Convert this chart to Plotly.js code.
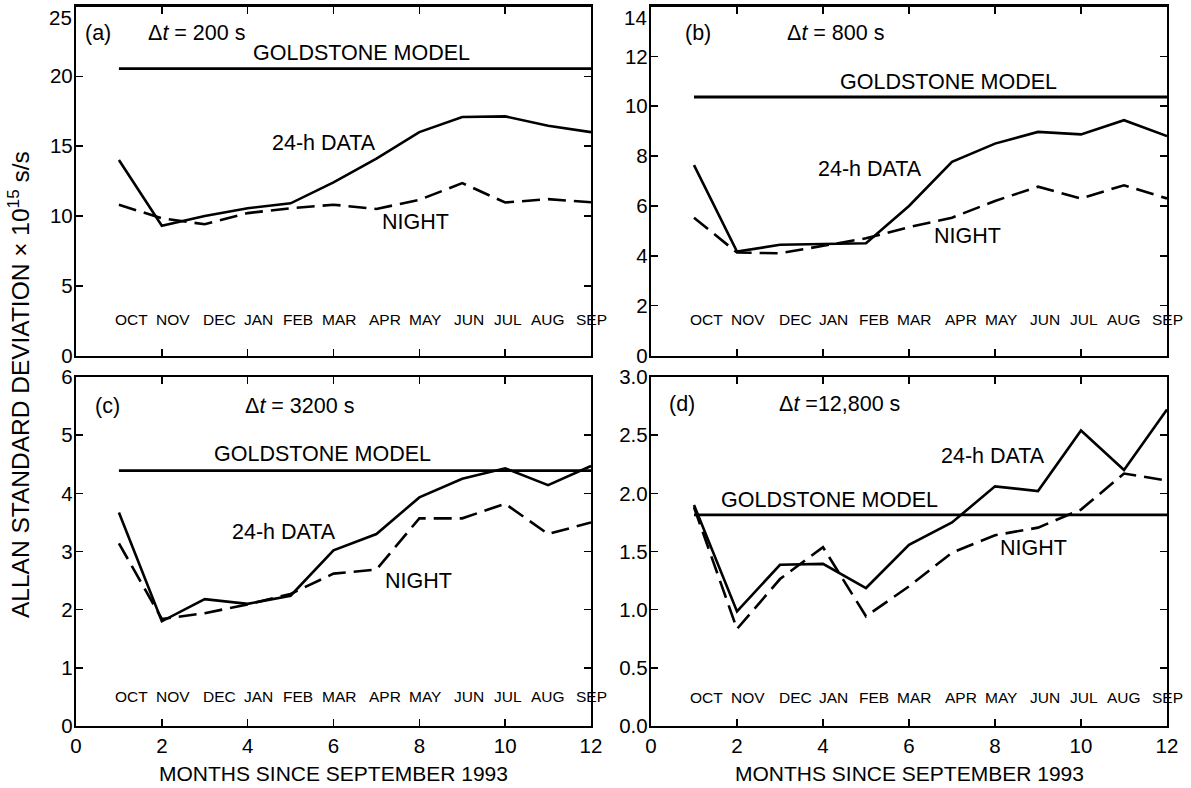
<!DOCTYPE html>
<html>
<head>
<meta charset="utf-8">
<script src="https://cdn.plot.ly/plotly-3.0.1.min.js"></script>
<style>html,body{margin:0;padding:0;background:#fff;}#chart{width:1191px;height:788px;}</style>
</head>
<body>
<div id="chart"></div>
<script>
// ---- data ----
const months = [1, 2, 3, 4, 5, 6, 7, 8, 9, 10, 11, 12];
const monthNames = ["OCT", "NOV", "DEC", "JAN", "FEB", "MAR", "APR", "MAY", "JUN", "JUL", "AUG", "SEP"];
const monthLabelPos = [1.3, 2.26, 3.35, 4.25, 5.18, 6.12, 7.2, 8.14, 9.16, 10.06, 11.0, 12.0];

const day_a   = [14.0, 9.3, 10.0, 10.55, 10.9, 12.4, 14.1, 16.0, 17.08, 17.13, 16.46, 16.0];
const night_a = [10.8, 9.83, 9.4, 10.2, 10.55, 10.8, 10.5, 11.15, 12.35, 10.96, 11.2, 10.98];
const model_a = 20.55;

const day_b   = [7.64, 4.17, 4.44, 4.47, 4.5, 6.0, 7.77, 8.5, 8.97, 8.87, 9.44, 8.8];
const night_b = [5.53, 4.13, 4.1, 4.4, 4.7, 5.15, 5.53, 6.2, 6.77, 6.3, 6.83, 6.3];
const model_b = 10.37;

const day_c   = [3.67, 1.8, 2.18, 2.1, 2.24, 3.02, 3.3, 3.93, 4.25, 4.43, 4.14, 4.47];
const night_c = [3.14, 1.84, 1.94, 2.09, 2.27, 2.62, 2.69, 3.57, 3.57, 3.82, 3.3, 3.5];
const model_c = 4.39;

const day_d   = [1.9, 0.985, 1.386, 1.394, 1.186, 1.557, 1.75, 2.06, 2.02, 2.54, 2.2, 2.72];
const night_d = [1.88, 0.834, 1.263, 1.537, 0.943, 1.2, 1.49, 1.64, 1.705, 1.86, 2.17, 2.11];
const model_d = 1.815;

const panels = [
  {id: "", day: day_a, night: night_a, model: model_a, range: [0, 25], dtick: 5, fmt: "", topInside: true,
   tag: "(a)", dt: "\u0394<i>t</i> = 200 s",
   lab: {tag: [0.52, 23.1], dt: [2.8, 23.1], model: [6.66, 21.7], day: [5.78, 15.24], night: [7.92, 9.57]}, monthY: 0.102},
  {id: "2", day: day_b, night: night_b, model: model_b, range: [0, 14], dtick: 2, fmt: "", topInside: true,
   tag: "(b)", dt: "\u0394<i>t</i> = 800 s",
   lab: {tag: [1.09, 12.95], dt: [4.28, 12.95], model: [6.93, 10.99], day: [5.09, 7.47], night: [7.35, 4.79]}, monthY: 0.104},
  {id: "3", day: day_c, night: night_c, model: model_c, range: [0, 6], dtick: 1, fmt: "", topInside: false,
   tag: "(c)", dt: "\u0394<i>t</i> = 3200 s",
   lab: {tag: [0.73, 5.5], dt: [5.2, 5.5], model: [5.75, 4.68], day: [4.85, 3.33], night: [7.98, 2.5]}, monthY: 0.084},
  {id: "4", day: day_d, night: night_d, model: model_d, range: [0, 3], dtick: 0.5, fmt: ".1f", topInside: false,
   tag: "(d)", dt: "\u0394<i>t</i> =12,800 s",
   lab: {tag: [0.73, 2.77], dt: [4.39, 2.77], model: [4.14, 1.94], day: [7.95, 2.32], night: [8.9, 1.53]}, monthY: 0.081}
];

// ---- layout geometry ----
const W = 1191, H = 788;
const xDom = [[76 / W, 591 / W], [651 / W, 1167 / W]];
const yDom = [[1 - 355.5 / H, 1 - 6.5 / H], [1 - 726 / H, 1 - 377 / H]];
const FONT = "Liberation Sans, Arial, Helvetica, sans-serif";
const LABEL = 21.5;
const TICK = 20.5;

const traces = [];
const annotations = [];
const layout = {
  width: W, height: H,
  margin: {l: 0, r: 0, t: 0, b: 0},
  paper_bgcolor: "#fff", plot_bgcolor: "#fff",
  showlegend: false,
  font: {family: FONT, color: "#000", size: 20},
  annotations: annotations
};

panels.forEach((p, i) => {
  const xa = "x" + p.id, ya = "y" + p.id;
  const col = i % 2, row = Math.floor(i / 2);
  const bottom = row === 1;
  // tick values follow the axis range and step
  const vals = [];
  for (let v = p.range[0]; v <= p.range[1] + 1e-9; v += p.dtick) vals.push(+v.toFixed(3));
  const topVal = vals[vals.length - 1];
  const axisVals = p.topInside ? vals.slice(0, -1) : vals;
  const fmtVal = v => p.fmt ? v.toFixed(1) : String(v);

  layout["xaxis" + p.id] = {
    domain: xDom[col], anchor: ya, range: [0, 12], dtick: 2, tick0: 0,
    showline: true, linewidth: 2.2, linecolor: "#000", mirror: "ticks",
    ticks: "inside", ticklen: 7, tickwidth: 1.6, tickcolor: "#000",
    showgrid: false, zeroline: false, showticklabels: bottom,
    tickfont: {size: TICK, family: FONT}, fixedrange: true
  };
  layout["yaxis" + p.id] = {
    domain: yDom[row], anchor: xa, range: p.range,
    tickmode: "array", tickvals: axisVals, ticktext: axisVals.map(fmtVal),
    ticklabelstandoff: -3,
    showline: true, linewidth: 2.2, linecolor: "#000", mirror: "ticks",
    ticks: "inside", ticklen: 7, tickwidth: 1.6, tickcolor: "#000",
    showgrid: false, zeroline: false,
    tickfont: {size: TICK, family: FONT}, fixedrange: true
  };
  traces.push({x: months, y: p.day, xaxis: xa, yaxis: ya, type: "scatter", mode: "lines",
    line: {color: "#000", width: 2.6}, cliponaxis: true, hoverinfo: "skip"});
  traces.push({x: months, y: p.night, xaxis: xa, yaxis: ya, type: "scatter", mode: "lines",
    line: {color: "#000", width: 2.6, dash: "18px,8px"}, cliponaxis: true, hoverinfo: "skip"});
  traces.push({x: [months[0], months[months.length - 1]], y: [p.model, p.model], xaxis: xa, yaxis: ya,
    type: "scatter", mode: "lines", line: {color: "#000", width: 2.8}, hoverinfo: "skip"});

  const txt = (t, xy) => annotations.push({text: t, x: xy[0], y: xy[1], xref: xa, yref: ya,
    showarrow: false, xanchor: "center", yanchor: "middle", font: {size: LABEL, family: FONT}});
  txt(p.tag, p.lab.tag);
  txt(p.dt, p.lab.dt);
  txt("GOLDSTONE MODEL", p.lab.model);
  txt("24-h DATA", p.lab.day);
  txt("NIGHT", p.lab.night);

  monthNames.forEach((m, k) => {
    annotations.push({text: m, x: monthLabelPos[k] / 12, xref: xa + " domain", y: p.monthY, yref: ya + " domain",
      showarrow: false, xanchor: "center", yanchor: "middle", font: {size: 15.5, family: FONT}});
  });

  // top tick label of the upper panels sits just inside the figure edge
  if (p.topInside) {
    annotations.push({text: fmtVal(topVal), x: 0, xref: xa + " domain", xanchor: "right", xshift: -2,
      y: 1, yref: ya + " domain", yanchor: "top", yshift: 2,
      showarrow: false, font: {size: TICK, family: FONT}});
  }

  if (bottom) {
    annotations.push({text: "MONTHS SINCE SEPTEMBER 1993", xref: "paper", yref: "paper",
      x: (xDom[col][0] + xDom[col][1]) / 2, y: 1 - 773 / H, xanchor: "center", yanchor: "middle",
      showarrow: false, font: {size: 21, family: FONT}});
  }
});

annotations.push({text: "ALLAN STANDARD DEVIATION \u00d7 10<sup>15</sup> s/s", xref: "paper", yref: "paper",
  x: 19 / W, y: 1 - 385 / H, xanchor: "center", yanchor: "middle", textangle: -90,
  showarrow: false, font: {size: 24.5, family: FONT}});

Plotly.newPlot("chart", traces, layout, {staticPlot: true, displayModeBar: false});
</script>
</body>
</html>
